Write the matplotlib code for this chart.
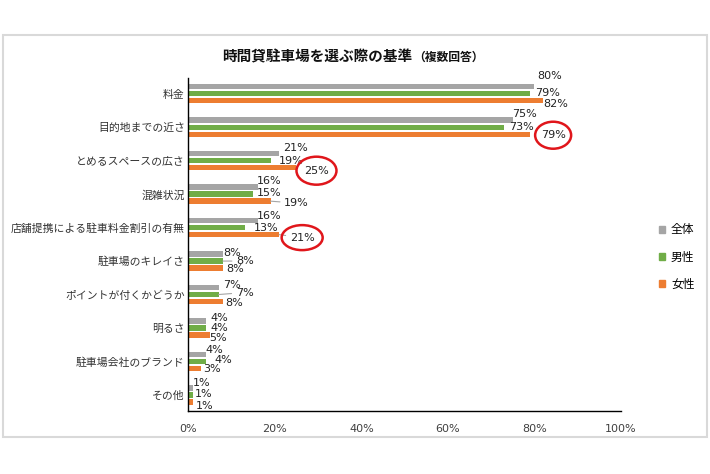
import matplotlib.pyplot as plt
import matplotlib.patches as mpatches
from matplotlib.patches import Ellipse, Rectangle
import numpy as np

plt.rcParams['font.family'] = ['Noto Sans CJK JP', 'DejaVu Sans']

# Data (percent)
categories = ["料金", "目的地までの近さ", "とめるスペースの広さ", "混雑状況",
              "店舗提携による駐車料金割引の有無", "駐車場のキレイさ",
              "ポイントが付くかどうか", "明るさ", "駐車場会社のブランド", "その他"]
all_resp = [80, 75, 21, 16, 16, 8, 7, 4, 4, 1]
male = [79, 73, 19, 15, 13, 8, 7, 4, 4, 1]
female = [82, 79, 25, 19, 21, 8, 8, 5, 3, 1]
series_names = ["全体", "男性", "女性"]
x_ticks = [0, 20, 40, 60, 80, 100]

COLORS = ["#A5A5A5", "#70AD47", "#ED7D31"]

# label offsets in pixels from bar end / bar centre (dx, dy; dy positive = down)
LABEL_OFFSETS = [
    [(15, -11), (17, -1), (13, 3)],
    [(12, -6), (17, 0), (23, 1)],
    [(16, -6), (21, 0), (20, 3)],
    [(12, -6), (16, -1), (26, 2)],
    [(12, -5), (22, 0), (23, 3)],
    [(9, -1), (22, 0), (12, 1)],
    [(13, -3), (26, -2), (11, 1)],
    [(14, -3), (14, 0), (8, 3)],
    [(9, -4), (18, -1), (11, 1)],
    [(9, -5), (11, -1), (12, 4)],
]
# labels pulled away with a leader line: (category index, series index)
LEADERS = [(3, 2), (4, 2), (5, 1), (6, 1)]
# circled labels (category index, series index, width px, height px)
CIRCLES = [(1, 2, 36, 27), (2, 2, 40, 28), (4, 2, 41, 25)]

fig = plt.figure(figsize=(7.10, 4.74), dpi=100)
W, H = 710, 474

# outer light border
fig.patches.append(Rectangle((3 / W, 1 - 437 / H), 704 / W, 402 / H,
                             transform=fig.transFigure, fill=False,
                             edgecolor="#D9D9D9", linewidth=1.5))

ax = fig.add_axes([188.3 / W, 1 - 411 / H, (621 - 188.3) / W, (411 - 78) / H])

y = np.arange(len(categories))
off = 0.21
h = 0.16
series = [all_resp, male, female]
for k, vals in enumerate(series):
    ax.barh(y + (k - 1) * off, vals, height=h, color=COLORS[k], label=series_names[k])

ax.set_xlim(0, 100)
ax.set_ylim(9.48, -0.47)
ax.set_xticks(x_ticks)
ax.set_xticklabels([f"{t}%" for t in x_ticks], fontsize=8, color="#404040",
                   family=['DejaVu Sans'])
ax.set_yticks(y)
ax.set_yticklabels(categories, fontsize=7.8, color="#333333")
ax.tick_params(axis='both', length=0)
ax.tick_params(axis='y', pad=2.5)
ax.tick_params(axis='x', pad=9)
for s in ["top", "right"]:
    ax.spines[s].set_visible(False)
ax.spines["left"].set_color("black")
ax.spines["bottom"].set_color("black")
ax.spines["left"].set_linewidth(1.0)
ax.spines["bottom"].set_linewidth(1.0)

# data labels
for i in range(len(categories)):
    for k, vals in enumerate(series):
        v = vals[i]
        yc = y[i] + (k - 1) * off
        dx, dy = LABEL_OFFSETS[i][k]
        kw = {}
        if (i, k) in LEADERS:
            kw["arrowprops"] = dict(arrowstyle='-', color="#A5A5A5", lw=0.8,
                                    shrinkA=1, shrinkB=0)
        ax.annotate(f"{v}%", xy=(v, yc), xytext=(dx, -dy), textcoords='offset pixels',
                    ha='center', va='center', fontsize=8, color="#222222",
                    family=['DejaVu Sans'], annotation_clip=False, **kw)

# red circles around notable female values
for i, k, cw, ch in CIRCLES:
    v = series[k][i]
    yc = y[i] + (k - 1) * off
    dx, dy = LABEL_OFFSETS[i][k]
    px, py = ax.transData.transform((v, yc))
    cx, cy = px + dx, py - dy
    e = Ellipse(fig.transFigure.inverted().transform((cx, cy)), cw / W, ch / H,
                transform=fig.transFigure, fill=False, edgecolor="#E0161B", linewidth=1.8)
    fig.patches.append(e)

# title
fig.text(412 / W, 1 - 56 / H, "時間貸駐車場を選ぶ際の基準", ha='right', va='center',
         fontsize=10.5, fontweight='bold', color="#111111")
fig.text(413 / W, 1 - 57 / H, "（複数回答）", ha='left', va='center',
         fontsize=8.5, fontweight='bold', color="#111111")

# legend
handles = [mpatches.Patch(color=c, label=n) for c, n in zip(COLORS, series_names)]
fig.legend(handles=handles, loc='center left', bbox_to_anchor=(648 / W, 1 - 257 / H),
           frameon=False, fontsize=8.5, handlelength=0.55, handleheight=0.55,
           handletextpad=0.5, labelspacing=1.2)

fig.savefig("out.png", dpi=100)
